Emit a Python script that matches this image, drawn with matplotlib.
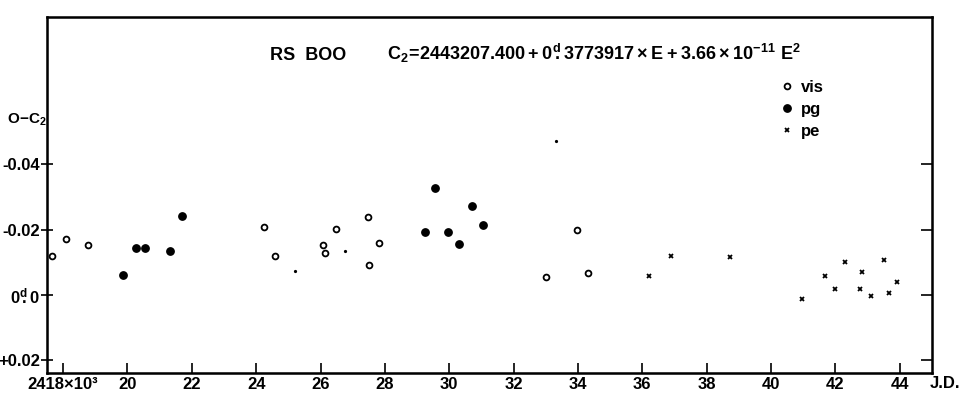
import matplotlib
matplotlib.use("Agg")
import matplotlib.pyplot as plt
from matplotlib.lines import Line2D

plt.rcParams['font.family'] = ['Liberation Sans', 'DejaVu Sans']
plt.rcParams['mathtext.fontset'] = 'custom'
plt.rcParams['mathtext.rm'] = 'Liberation Sans'
plt.rcParams['mathtext.bf'] = 'Liberation Sans:bold'

# O-C data, JD in units of 10^3 days (18 = 2418000), O-C in days
jd_vis = [17.65, 18.09, 18.76, 24.24, 24.58, 26.07, 26.13, 26.47, 27.47, 27.51, 27.82, 33.01, 33.98, 34.32]
oc_vis = [-0.0119, -0.0172, -0.0152, -0.0209, -0.0119, -0.0152, -0.0127, -0.0201, -0.0238, -0.0092,
          -0.0160, -0.0056, -0.0199, -0.0066]

jd_pg = [19.85, 20.26, 20.56, 21.33, 21.68, 29.24, 29.57, 29.96, 30.30, 30.70, 31.05]
oc_pg = [-0.0062, -0.0144, -0.0143, -0.0134, -0.0243, -0.0193, -0.0327, -0.0193, -0.0155, -0.0273, -0.0213]

jd_pe = [36.20, 36.88, 38.71, 40.96, 41.69, 42.00, 42.31, 42.76, 42.83, 43.11, 43.50, 43.67, 43.90]
oc_pe = [-0.0058, -0.0118, -0.0116, 0.0013, -0.0059, -0.0017, -0.0100, -0.0017, -0.0069, 0.0002,
         -0.0108, -0.0007, -0.0041]

# tiny specks visible in the scan
jd_dot = [25.20, 26.76, 33.32]
oc_dot = [-0.0072, -0.0135, -0.0471]

xticks = list(range(18, 45, 2))
xlabels = ["2418×10³"] + [str(t) for t in xticks[1:]]
yticks = [-0.04, -0.02, 0.0, 0.02]
ylabels = ["-0.04", "-0.02", r"$\mathbf{0^{d}\!\!.0}$", "+0.02"]

fig = plt.figure(figsize=(9.59, 4.0), dpi=100)
ax = fig.add_axes([47/959, 1-373/400, 885/959, 356/400])

ax.plot(jd_vis, oc_vis, 'o', ms=4.2, mfc='white', mec='black', mew=1.3, ls='none')
ax.plot(jd_pg, oc_pg, 'o', ms=5.3, color='black', ls='none')
ax.plot(jd_pe, oc_pe, 'x', ms=3.5, mew=1.3, color='black', ls='none')
ax.plot(jd_dot, oc_dot, 'o', ms=1.3, color='black', ls='none')

ax.set_xlim(17.5, 45.0)
ax.set_ylim(0.0239, -0.0851)

ax.set_xticks(xticks)
ax.set_xticklabels(xlabels, fontsize=12, fontweight='bold')
ax.set_yticks(yticks)
ax.set_yticklabels(ylabels, fontsize=12, fontweight='bold')

ax.tick_params(axis='x', direction='in', length=7, width=1.2, pad=3, top=False)
ax.tick_params(axis='y', direction='inout', length=8, width=1.2, pad=1, right=False)
for sp in ax.spines.values():
    sp.set_linewidth(1.8)

# right axis ticks point inward only
ax2 = ax.twinx()
ax2.set_ylim(ax.get_ylim())
ax2.set_yticks(yticks)
ax2.set_yticklabels([])
ax2.tick_params(axis='y', direction='in', length=8, width=1.2)

fig.text(270/959, 1-55/400, "RS  BOO", fontsize=13, fontweight='bold', va='center', ha='left')
fig.text(387/959, 1-53/400,
         r"$\mathbf{C_2\!=\!2443207.400+0^{d}\!\!.3773917\times E+3.66\times 10^{-11}\ E^{2}}$",
         fontsize=13, va='center', ha='left')
fig.text(7/959, 1-120/400, r"$\mathbf{O\!-\!C_2}$", fontsize=11, va='center', ha='left')
fig.text(945/959, 1-384/400, "J.D.", fontsize=12, fontweight='bold', va='center', ha='center')

handles = [
    Line2D([], [], marker='o', ms=4.2, mfc='white', mec='black', mew=1.3, ls='none'),
    Line2D([], [], marker='o', ms=5.3, color='black', ls='none'),
    Line2D([], [], marker='x', ms=3.5, mew=1.3, color='black', ls='none'),
]
ax.legend(handles, ["vis", "pg", "pe"], loc='upper left', frameon=False,
          bbox_to_anchor=(779/959, 1-80/400), bbox_transform=fig.transFigure,
          borderaxespad=0, borderpad=0, handlelength=1.0, handletextpad=0.3,
          labelspacing=0.42, prop={'size': 12, 'weight': 'bold'})

fig.savefig("out.png", dpi=100)
